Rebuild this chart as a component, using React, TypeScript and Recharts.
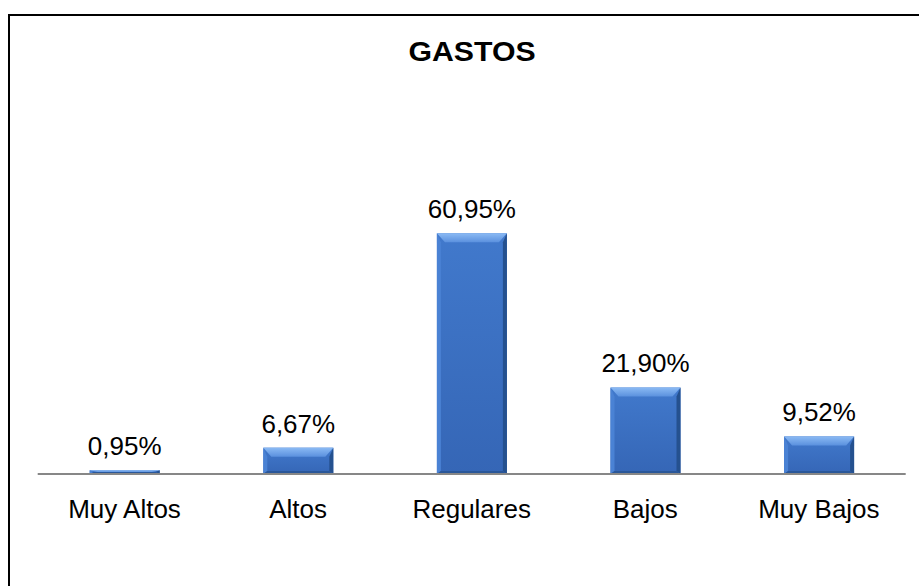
import React from 'react';
import { BarChart, Bar, XAxis, YAxis, LabelList } from 'recharts';

const categories = ['Muy Altos', 'Altos', 'Regulares', 'Bajos', 'Muy Bajos'];
const values = [0.95, 6.67, 60.95, 21.9, 9.52];
const title = 'GASTOS';

const data = categories.map((c, i) => ({ name: c, value: values[i] }));

const fmt = (v: number) => v.toFixed(2).replace('.', ',') + '%';

const BevelBar = (props: any) => {
  const { x, y, width: w, height: h, index } = props;
  if (!h || h <= 0) return null;
  const bt = Math.min(9, h / 2);
  const bs = Math.min(4, w / 2);
  const bb = Math.min(3, h / 2);
  const id = 'g' + index;
  return (
    <g>
      <defs>
        <linearGradient id={id + 'body'} x1="0" y1="0" x2="0" y2="1">
          <stop offset="0%" stopColor="#4179CC" />
          <stop offset="100%" stopColor="#3566B6" />
        </linearGradient>
        <linearGradient id={id + 'top'} x1="0" y1="0" x2="0" y2="1">
          <stop offset="0%" stopColor="#8BBAF4" />
          <stop offset="100%" stopColor="#5B91DE" />
        </linearGradient>
      </defs>
      <rect x={x} y={y} width={w} height={h} fill={`url(#${id}body)`} />
      <polygon
        points={`${x},${y} ${x + bs},${y + bt} ${x + bs},${y + h - bb} ${x},${y + h}`}
        fill="#4A82D4"
      />
      <polygon
        points={`${x + w},${y} ${x + w},${y + h} ${x + w - bs},${y + h - bb} ${x + w - bs},${y + bt}`}
        fill="#25518F"
      />
      <polygon
        points={`${x},${y + h} ${x + bs},${y + h - bb} ${x + w - bs},${y + h - bb} ${x + w},${y + h}`}
        fill="#2A5799"
      />
      <polygon
        points={`${x},${y} ${x + w},${y} ${x + w - bs - 4},${y + bt} ${x + bs + 4},${y + bt}`}
        fill={`url(#${id}top)`}
      />
    </g>
  );
};

export default function App() {
  return (
    <div
      style={{
        position: 'absolute',
        left: 0,
        top: 0,
        width: 919,
        height: 586,
        overflow: 'hidden',
        background: '#fff',
        fontFamily: 'Arial, "Liberation Sans", sans-serif',
      }}
    >
      <div
        style={{
          position: 'absolute',
          left: 8,
          top: 14,
          width: 1000,
          height: 1000,
          border: '2px solid #000',
          boxSizing: 'border-box',
        }}
      />
      <div
        style={{
          position: 'absolute',
          left: 0,
          width: 944,
          top: 37,
          textAlign: 'center',
          fontSize: 27,
          fontWeight: 'bold',
          lineHeight: '30px',
          color: '#000',
          transform: 'scaleX(1.12)',
          transformOrigin: '472px 0',
        }}
      >
        {title}
      </div>
      <div style={{ position: 'absolute', left: 0, top: 0 }}>
        <BarChart
          width={919}
          height={586}
          data={data}
          margin={{ top: 197.5, right: 13.3, bottom: 0, left: 37.7 }}
          barSize={70}
        >
          <XAxis
            dataKey="name"
            height={112}
            axisLine={{ stroke: '#878787', strokeWidth: 2 }}
            tickLine={false}
            tickSize={0}
            tickMargin={26}
            interval={0}
            tick={{ fill: '#000', fontSize: 26, fontFamily: 'Arial, "Liberation Sans", sans-serif' }}
          />
          <YAxis hide domain={[0, 70]} />
          <Bar dataKey="value" isAnimationActive={false} shape={<BevelBar />}>
            <LabelList
              dataKey="value"
              position="top"
              offset={15}
              formatter={(v: any) => fmt(Number(v))}
              style={{ fill: '#000', fontSize: 26, fontFamily: 'Arial, "Liberation Sans", sans-serif' }}
            />
          </Bar>
        </BarChart>
      </div>
    </div>
  );
}
